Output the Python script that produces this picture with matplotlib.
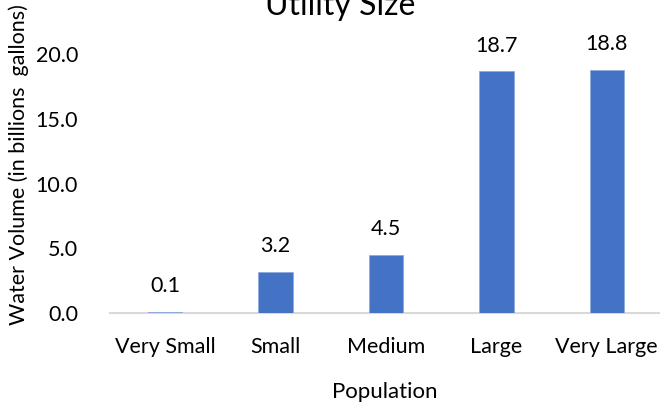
import matplotlib
matplotlib.use("Agg")
import matplotlib.pyplot as plt

categories = ["Very Small", "Small", "Medium", "Large", "Very Large"]
values = [0.1, 3.2, 4.5, 18.7, 18.8]
yticks = [0.0, 5.0, 10.0, 15.0, 20.0]

plt.rcParams['font.family'] = ['Lato', 'DejaVu Sans']

W, H = 660, 404
fig = plt.figure(figsize=(W / 100, H / 100), dpi=100)
left, right, bottom, top = 110, 662, 313, 54
ax = fig.add_axes([left / W, (H - bottom) / H, (right - left) / W, (bottom - top) / H])

x = list(range(len(categories)))
bars = ax.bar(x, values, width=0.31, color="#4472C4", edgecolor="#8FAADC", linewidth=0.6, zorder=3)
ax.set_xlim(-0.5, len(categories) - 0.5)
ax.set_ylim(0, 20)
ax.set_xticks(x)
ax.set_xticklabels(categories, fontsize=15.5)
ax.set_yticks(yticks)
ax.set_yticklabels([f"{v:.1f}" for v in yticks], fontsize=15.5)
ax.tick_params(axis='both', length=0, colors="#000000")
ax.tick_params(axis='y', pad=23)
ax.tick_params(axis='x', pad=17)
for s in ["top", "right", "left"]:
    ax.spines[s].set_visible(False)
ax.spines["bottom"].set_color("#D9D9D9")
ax.spines["bottom"].set_linewidth(1.5)
ax.spines["bottom"].set_zorder(2)

for xi, v in zip(x, values):
    ax.annotate(f"{v:.1f}", (xi, v), xytext=(0, 11), textcoords="offset points",
                ha="center", va="bottom", fontsize=15.5)

fig.text(340 / W, 1 - 15 / H, "Utility Size", ha="center", va="baseline", fontsize=23)
fig.text(385 / W, 1 - 392 / H, "Population", ha="center", va="center", fontsize=16)
fig.text(19 / W, 1 - 165 / H, "Water Volume (in billions  gallons)", ha="center", va="center",
         rotation=90, fontsize=15.5)

fig.savefig("out.png", dpi=100)
